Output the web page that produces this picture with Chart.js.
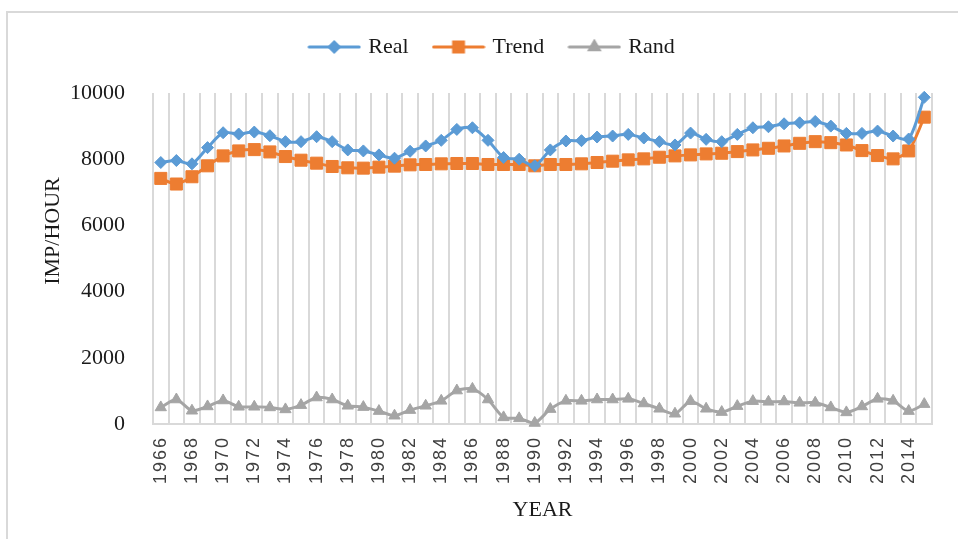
<!DOCTYPE html>
<html>
<head>
<meta charset="utf-8">
<script src="https://cdn.jsdelivr.net/npm/chart.js@4.4.1/dist/chart.umd.min.js"></script>
<style>
  html, body { margin: 0; padding: 0; background: #fff; overflow: hidden; }
  #wrap { width: 958px; height: 539px; position: relative; }
</style>
</head>
<body>
<div id="wrap"><canvas id="c" width="958" height="539"></canvas></div>
<script>
// Yearly series, 1966–2015
const years = [
  1966, 1967, 1968, 1969, 1970, 1971, 1972, 1973, 1974, 1975,
  1976, 1977, 1978, 1979, 1980, 1981, 1982, 1983, 1984, 1985,
  1986, 1987, 1988, 1989, 1990, 1991, 1992, 1993, 1994, 1995,
  1996, 1997, 1998, 1999, 2000, 2001, 2002, 2003, 2004, 2005,
  2006, 2007, 2008, 2009, 2010, 2011, 2012, 2013, 2014, 2015
];

const realValues = [
  7900, 7960, 7860, 8350, 8800, 8760, 8820, 8710, 8530, 8530,
  8680, 8530, 8280, 8250, 8130, 8030, 8240, 8400, 8570, 8900,
  8950, 8570, 8050, 8000, 7800, 8280, 8550, 8560, 8670, 8700,
  8750, 8640, 8530, 8430, 8790, 8600, 8530, 8750, 8950, 8980,
  9070, 9100, 9140, 9000, 8780, 8780, 8850, 8700, 8610, 9870
];

const trendValues = [
  7420, 7250, 7470, 7800, 8100, 8250, 8290, 8220, 8080, 7970,
  7880, 7780, 7740, 7730, 7760, 7790, 7830, 7840, 7860, 7870,
  7870, 7840, 7840, 7840, 7800, 7840, 7840, 7860, 7900, 7940,
  7980, 8010, 8060, 8100, 8130, 8160, 8180, 8230, 8280, 8330,
  8400, 8480, 8530, 8500, 8430, 8260, 8110, 8010, 8250, 9270
];

const randValues = [
  500, 740, 400, 530, 710, 520, 520, 500, 440, 570,
  800, 740, 550, 510, 390, 250, 420, 550, 700, 1010,
  1060, 740, 200, 170, 30, 450, 700, 700, 740, 740,
  760, 620, 460, 310, 690, 460, 360, 540, 690, 670,
  680, 640, 640, 500, 350, 530, 760, 700, 390, 600
];

const seriesNames = ['Real', 'Trend', 'Rand'];
const yTicks = [0, 2000, 4000, 6000, 8000, 10000];

const COLORS = { real: '#5B9BD5', trend: '#ED7D31', rand: '#A5A5A5' };
const SERIF = "'Liberation Serif', 'Times New Roman', serif";
const SANS = "'Liberation Sans', Arial, sans-serif";

// Category axis whose tick labels are drawn with a little extra tracking
class SpacedCategory extends Chart.CategoryScale {
  drawLabels(chartArea) {
    const ctx = this.ctx;
    ctx.save();
    ctx.letterSpacing = '2px';
    super.drawLabels(chartArea);
    ctx.restore();
  }
}
SpacedCategory.id = 'spacedCategory';
SpacedCategory.defaults = Chart.CategoryScale.defaults;
Chart.register(SpacedCategory);

// Legend swatch: a short line with the series marker in the middle
function legendIcon(color, style, radius) {
  const c = document.createElement('canvas');
  c.width = 54; c.height = 16;
  const g = c.getContext('2d');
  g.strokeStyle = color;
  g.lineWidth = 3;
  g.lineCap = 'round';
  g.beginPath();
  g.moveTo(2, 8);
  g.lineTo(52, 8);
  g.stroke();
  g.fillStyle = color;
  Chart.helpers.drawPoint(g, { pointStyle: style, radius: radius, borderWidth: 1, rotation: 0 }, 27, 8);
  return c;
}

const icons = [
  legendIcon(COLORS.real, 'rectRot', 5),
  legendIcon(COLORS.trend, 'rect', 7),
  legendIcon(COLORS.rand, 'triangle', 5.5)
];

// Light frame around the chart
const framePlugin = {
  id: 'frame',
  beforeDraw(chart) {
    const ctx = chart.ctx;
    ctx.save();
    ctx.fillStyle = '#ffffff';
    ctx.fillRect(0, 0, chart.width, chart.height);
    ctx.strokeStyle = '#d9d9d9';
    ctx.lineWidth = 2;
    ctx.strokeRect(7, 12, 1400, 1400);
    ctx.restore();
  }
};

// Extra room between the legend and the plot
const legendGapPlugin = {
  id: 'legendGap',
  beforeInit(chart) {
    const legend = chart.legend;
    if (!legend) return;
    const fit = legend.fit;
    legend.fit = function () {
      fit.call(this);
      this.height += 25;
    };
  }
};

function lineDataset(label, values, color, style, radius) {
  return {
    label: label,
    data: values,
    borderColor: color,
    backgroundColor: color,
    borderWidth: 3,
    pointStyle: style,
    pointRadius: radius,
    pointHoverRadius: radius,
    pointBorderWidth: 1,
    pointBorderColor: color,
    pointBackgroundColor: color,
    tension: 0.25,
    clip: false
  };
}

new Chart(document.getElementById('c'), {
  type: 'line',
  data: {
    labels: years.map(String),
    datasets: [
      lineDataset(seriesNames[0], realValues, COLORS.real, 'rectRot', 6),
      lineDataset(seriesNames[1], trendValues, COLORS.trend, 'rect', 8.5),
      lineDataset(seriesNames[2], randValues, COLORS.rand, 'triangle', 6.5)
    ]
  },
  options: {
    responsive: false,
    devicePixelRatio: 1,
    animation: false,
    layout: { padding: { left: 40, right: 12, top: 9, bottom: 16 } },
    plugins: {
      tooltip: { enabled: false },
      legend: {
        position: 'top',
        align: 'center',
        labels: {
          usePointStyle: true,
          pointStyleWidth: 46,
          padding: 27,
          color: '#1a1a1a',
          font: { family: SERIF, size: 22 },
          generateLabels: chart => chart.data.datasets.map((ds, i) => ({
            text: ds.label,
            pointStyle: icons[i],
            fillStyle: 'transparent',
            strokeStyle: 'transparent',
            lineWidth: 0,
            fontColor: '#1a1a1a',
            hidden: false,
            datasetIndex: i
          }))
        }
      }
    },
    scales: {
      x: {
        type: 'spacedCategory',
        offset: true,
        grid: {
          display: true,
          offset: true,
          color: '#d9d9d9',
          lineWidth: 2,
          drawTicks: false
        },
        border: { display: true, color: '#d9d9d9', width: 2 },
        ticks: {
          autoSkip: false,
          minRotation: 90,
          maxRotation: 90,
          padding: 12,
          color: '#404040',
          font: { family: SANS, size: 18 },
          callback: (value, index) => (index % 2 === 0 ? String(years[index]) : '')
        },
        title: {
          display: true,
          text: 'YEAR',
          color: '#1a1a1a',
          font: { family: SERIF, size: 22 },
          padding: { top: 0, bottom: 0 }
        },
        afterFit: scale => { scale.height = 99; }
      },
      y: {
        min: 0,
        max: 10000,
        grid: { display: false },
        border: { display: false },
        afterBuildTicks: scale => { scale.ticks = yTicks.map(v => ({ value: v })); },
        ticks: {
          padding: 20,
          color: '#1a1a1a',
          font: { family: SERIF, size: 22 },
          callback: value => String(value)
        },
        title: {
          display: true,
          text: '\u00a0\u00a0\u00a0\u00a0\u00a0\u00a0\u00a0\u00a0\u00a0\u00a0IMP/HOUR',
          color: '#1a1a1a',
          font: { family: SERIF, size: 22 },
          padding: { top: 0, bottom: 0 }
        },
        afterFit: scale => { scale.width = 113; }
      }
    }
  },
  plugins: [framePlugin, legendGapPlugin]
});
</script>
</body>
</html>
